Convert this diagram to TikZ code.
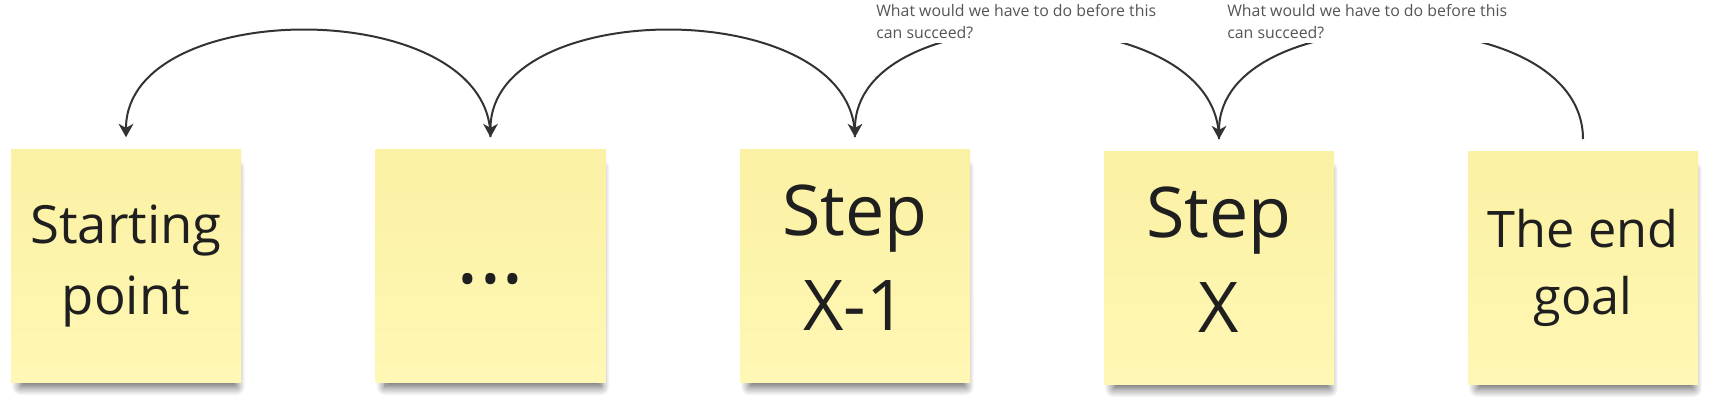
\documentclass[tikz,border=0pt]{standalone}
\usepackage{fontspec}
\setmainfont{Open Sans}
\usetikzlibrary{arrows.meta,shadows.blur}
\definecolor{stickytop}{HTML}{FBF1A4}
\definecolor{stickybottom}{HTML}{FFF7B4}
\definecolor{arcgray}{HTML}{333333}
\definecolor{notegray}{HTML}{555555}

\begin{document}
\begin{tikzpicture}[
x=0.75pt, y=0.75pt,
sticky/.style={
top color=stickytop,
bottom color=stickybottom,
minimum width=172.5pt,
minimum height=174.75pt,
align=center,
text=black!88,
blur shadow={shadow xshift=2pt, shadow yshift=-9pt, shadow scale=0.94, shadow blur radius=7pt, shadow blur steps=12, shadow opacity=65}
},
note/.style={
fill=white,
align=left,
inner sep=3pt,
text=notegray,
anchor=north west,
font=\fontsize{11.9}{16.5}\selectfont
},
back/.style={
draw=arcgray,
line width=1.5pt,
looseness=1
}
]
\useasboundingbox (0,0) rectangle (1718,-402);

\node[sticky, font=\fontsize{39.5}{53}\selectfont] (S) at (126,-266) {Starting\\point};
\node[sticky, font=\fontsize{64}{66}\selectfont, text height=27pt, text depth=0pt] (D) at (490.5,-266) {...};
\node[sticky, font=\fontsize{52.5}{71}\selectfont] (A) at (855,-266) {Step\\X-1\vphantom{g}};
\node[sticky, font=\fontsize{52.5}{71}\selectfont] (B) at (1219,-268) {Step\\X\vphantom{g}};
\node[sticky, font=\fontsize{37.8}{50}\selectfont] (G) at (1583,-268) {The end\\goal};

\draw[back, -{Stealth[length=10pt, width=11pt, inset=3pt]}] ([yshift=9pt]D.north) to[out=90, in=90] ([yshift=9pt]S.north);
\draw[back, -{Stealth[length=10pt, width=11pt, inset=3pt]}] ([yshift=9pt]A.north) to[out=90, in=90] ([yshift=9pt]D.north);
\draw[back, -{Stealth[length=10pt, width=11pt, inset=3pt]}] ([yshift=9pt]B.north) to[out=90, in=90] ([yshift=9pt]A.north);
\draw[back, -{Stealth[length=10pt, width=11pt, inset=3pt]}] ([yshift=9pt]G.north) to[out=90, in=90] ([yshift=9pt]B.north);

\node[note] (Q1) at (872,0) {What would we have to do before this\\can succeed?};
\node[note] (Q2) at (1223,0) {What would we have to do before this\\can succeed?};

\end{tikzpicture}
\end{document}
